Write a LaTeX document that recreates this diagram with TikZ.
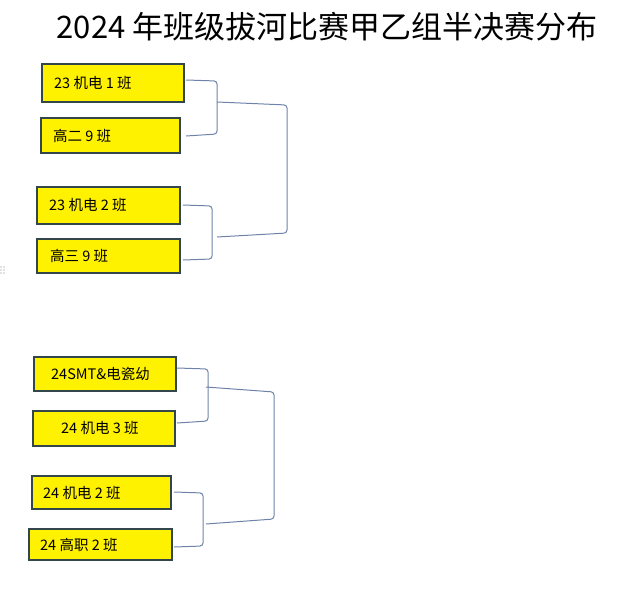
\documentclass[tikz,border=0pt]{standalone}
\usepackage{fontspec}
\setmainfont{Liberation Sans}
\newfontfamily\cjk{Noto Sans CJK SC}
\definecolor{bordc}{RGB}{50,70,75}
\definecolor{brc}{RGB}{110,130,170}
\begin{document}
\begin{tikzpicture}[x=1pt,y=-1pt,
  team/.style={draw=bordc,line width=2pt,fill=yellow},
  lbl/.style={anchor=west,font=\cjk\fontsize{14.5}{16}\selectfont,inner sep=0pt},
  br/.style={draw=brc,line width=1pt,rounded corners=3pt}]
\useasboundingbox (0,0) rectangle (635,597);
\node[font=\cjk\fontsize{31}{34}\selectfont,anchor=center] (title) at (327,27) {2024 年班级拔河比赛甲乙组半决赛分布};
\draw[team] (42,64) rectangle (184,102); \node[lbl] (t1) at (54,83) {23 机电 1 班};
\draw[team] (41,118) rectangle (180,153); \node[lbl] (t2) at (53,136) {高二 9 班};
\draw[team] (37,187) rectangle (180,224); \node[lbl] (t3) at (49,205) {23 机电 2 班};
\draw[team] (37,239) rectangle (180,273); \node[lbl] (t4) at (50,256) {高三 9 班};
\draw[team] (34,357) rectangle (176,391); \node[lbl] (t5) at (51,374) {24SMT\&电瓷幼};
\draw[team] (33,411) rectangle (175,446); \node[lbl] (t6) at (61,428) {24 机电 3 班};
\draw[team] (32,476) rectangle (171,509); \node[lbl] (t7) at (43,493) {24 机电 2 班};
\draw[team] (29,529) rectangle (172,560); \node[lbl] (t8) at (40,545) {24 高职 2 班};
\draw[br] (186,80) -- (217,81) -- (217,134) -- (186,136);
\draw[br] (217,102) -- (287,105) -- (287,233) -- (217,237);
\draw[br] (183,205) -- (212,206) -- (212,259) -- (183,260);
\draw[br] (177,368) -- (208,369) -- (208,421) -- (177,423);
\draw[br] (206,387) -- (274,392) -- (274,519) -- (206,524);
\draw[br] (174,492) -- (203,493) -- (203,546) -- (174,547);
\foreach \i in {0,1,2} \foreach \j in {0,1} \fill[gray] (1+3*\j,267+3*\i) circle (0.7);
\end{tikzpicture}
\end{document}
